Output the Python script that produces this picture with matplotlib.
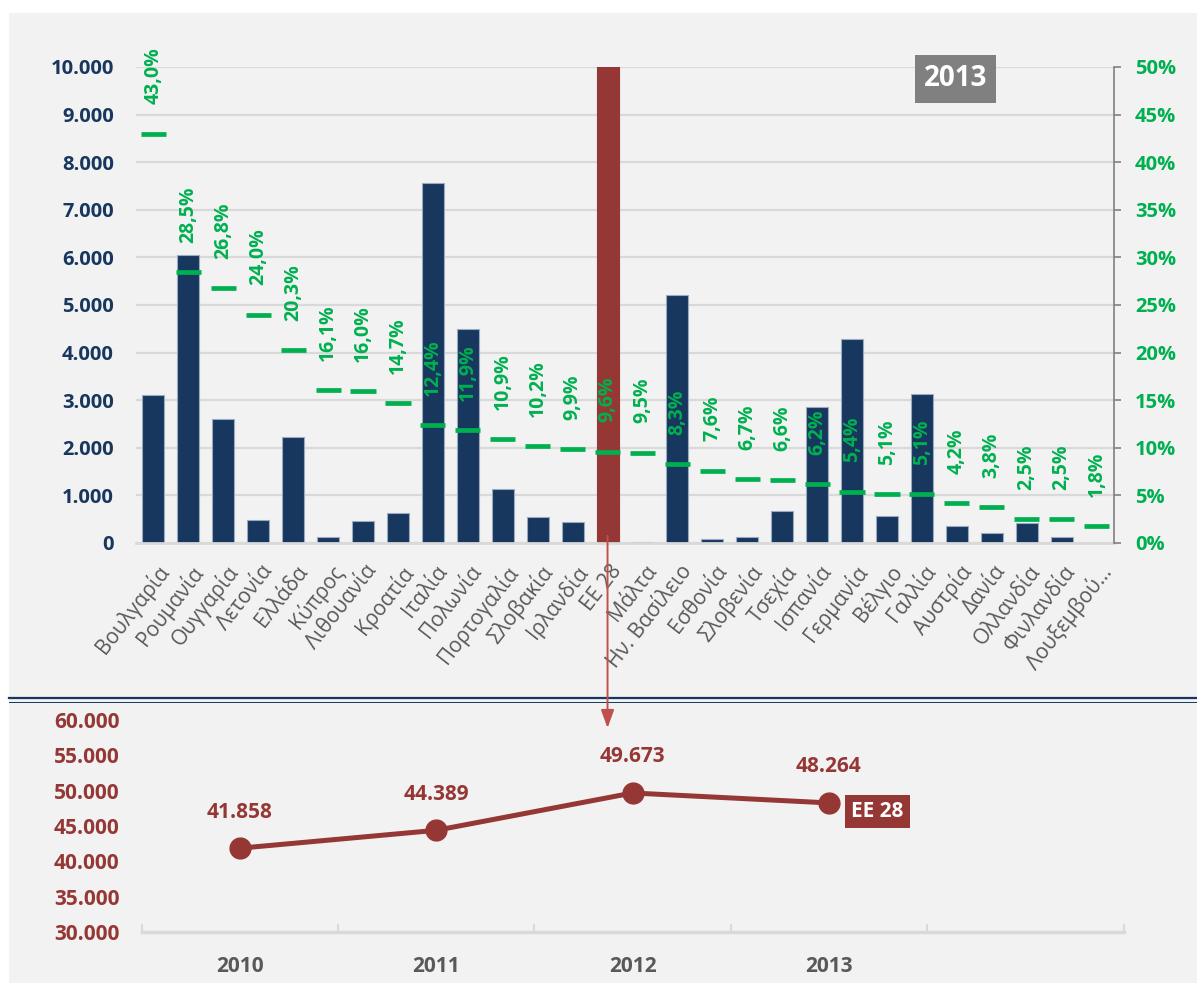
import numpy as np
import matplotlib
matplotlib.use('Agg')
import matplotlib.pyplot as plt
import matplotlib.transforms as mtransforms
from matplotlib.ticker import FuncFormatter
from matplotlib.patches import Rectangle, ConnectionPatch
from matplotlib.lines import Line2D

plt.rcParams['font.family'] = ['Open Sans', 'DejaVu Sans']

# --- data (2013 values per country, % share, EU-28 totals by year)
countries = ['Βουλγαρία', 'Ρουμανία', 'Ουγγαρία', 'Λετονία', 'Ελλάδα', 'Κύπρος',
             'Λιθουανία', 'Κροατία', 'Ιταλία', 'Πολωνία', 'Πορτογαλία', 'Σλοβακία',
             'Ιρλανδία', 'ΕΕ 28', 'Μάλτα', 'Ην. Βασίλειο', 'Εσθονία', 'Σλοβενία',
             'Τσεχία', 'Ισπανία', 'Γερμανία', 'Βέλγιο', 'Γαλλία', 'Αυστρία', 'Δανία',
             'Ολλανδία', 'Φινλανδία', 'Λουξεμβού...']
values = [3110, 6060, 2600, 480, 2230, 130, 470, 620, 7570, 4490, 1140, 550,
          450, 48264, 30, 5210, 90, 125, 670, 2850, 4280, 570, 3130, 360, 210,
          420, 130, 10]
shares = [43.0, 28.5, 26.8, 24.0, 20.3, 16.1, 16.0, 14.7, 12.4, 11.9, 10.9, 10.2,
          9.9, 9.6, 9.5, 8.3, 7.6, 6.7, 6.6, 6.2, 5.4, 5.1, 5.1, 4.2, 3.8, 2.5,
          2.5, 1.8]
EU_LABEL = 'ΕΕ 28'
YEAR_TAG = '2013'

years = ['2010', '2011', '2012', '2013', '']
eu_totals = [41858, 44389, 49673, 48264, np.nan]

NAVY = '#17375E'; RED = '#953735'; ARROW = '#C0504D'; GREEN = '#00B050'
GREY = '#595959'; GRID = '#D9D9D9'; BG = '#F2F2F2'

def thousands(v, p=None):
    return f'{v:,.0f}'.replace(',', '.')

W, H = 1197, 983
fig = plt.figure(figsize=(W / 100, H / 100), dpi=100, facecolor='white')
fig.add_artist(Rectangle((9 / W, 0), 1, 1 - 13 / H, transform=fig.transFigure,
                         facecolor=BG, edgecolor='none', zorder=-10))

# --- top panel: bars + share dashes
ax = fig.add_axes([136 / W, 1 - 543 / H, 978 / W, 476 / H])
ax.set_facecolor('none')
x = np.arange(len(countries))
eu_i = countries.index(EU_LABEL)
cols = [RED if c == EU_LABEL else NAVY for c in countries]
edges = [RED if c == EU_LABEL else '#9AAAC0' for c in countries]
ax.bar(x, values, width=0.63, color=cols, edgecolor=edges, lw=0.8, zorder=2)
ax.set_xlim(-0.5, len(countries) - 0.5)
ax.set_ylim(0, 10000)
ax.set_yticks(np.arange(0, 10001, 1000))
ax.yaxis.set_major_formatter(FuncFormatter(thousands))
ax.tick_params(axis='y', length=0, pad=16, labelsize=14.5, labelcolor=NAVY)
for t in ax.get_yticklabels():
    t.set_fontweight('bold')
ax.yaxis.grid(True, color=GRID, lw=1.6)
ax.set_axisbelow(True)
for s in ('top', 'left', 'right'):
    ax.spines[s].set_visible(False)
ax.spines['bottom'].set_color(GRID)
ax.spines['bottom'].set_linewidth(2)
ax.set_xticks(x)
ax.set_xticklabels(countries, rotation=52, ha='right', rotation_mode='anchor',
                   fontsize=15, color=GREY)
ax.tick_params(axis='x', length=0, pad=13)
shift = mtransforms.ScaledTranslation(2 / 100, 0, fig.dpi_scale_trans)
for t in ax.get_xticklabels():
    t.set_transform(t.get_transform() + shift)

ax2 = ax.twinx()
ax2.set_ylim(0, 50)
ax2.hlines(shares, x - 0.36, x + 0.36, color=GREEN, lw=3.4, capstyle='butt', zorder=3)
for xi, s in zip(x, shares):
    ax2.annotate(f'{s:.1f}%'.replace('.', ','), (xi, s), xytext=(0, 21),
                 textcoords='offset points', rotation=90, ha='center', va='bottom',
                 color=GREEN, fontsize=14, fontweight='bold')
ax2.set_yticks(np.arange(0, 51, 5))
ax2.yaxis.set_major_formatter(FuncFormatter(lambda v, p: f'{v:.0f}%'))
ax2.tick_params(axis='y', color='#808080', length=5, width=1.2, pad=10,
                labelsize=14.5, labelcolor=GREEN)
for t in ax2.get_yticklabels():
    t.set_fontweight('bold')
for s in ('top', 'left', 'bottom'):
    ax2.spines[s].set_visible(False)
ax2.spines['right'].set_color('#808080')
ax2.spines['right'].set_linewidth(1.2)

# year tag box
ax2.add_patch(Rectangle((0.7965, 0.925), 0.0828, 0.1008, transform=ax.transAxes,
                        facecolor='#808080', edgecolor='none', clip_on=False, zorder=5))
ax2.text(0.838, 0.975, YEAR_TAG, transform=ax.transAxes, ha='center', va='center',
         color='white', fontsize=20, fontweight='bold', zorder=6)

# --- divider
fig.add_artist(Line2D([9 / W, 1], [1 - 698 / H] * 2, color=NAVY, lw=1.6))
fig.add_artist(Line2D([9 / W, 1], [1 - 701.5 / H] * 2, color=NAVY, lw=0.7))

# --- bottom panel: EU-28 trend
bx = fig.add_axes([141.6 / W, 1 - 932 / H, 982 / W, 212 / H])
bx.set_facecolor('none')
yx = np.arange(len(years))
bx.plot(yx, eu_totals, color=RED, lw=3.6, marker='o', ms=15, zorder=3)
bx.set_xlim(-0.5, len(years) - 0.5)
bx.set_ylim(30000, 60000)
bx.set_yticks(np.arange(30000, 60001, 5000))
bx.yaxis.set_major_formatter(FuncFormatter(thousands))
bx.tick_params(axis='y', length=0, pad=16, labelsize=15, labelcolor=RED)
for t in bx.get_yticklabels():
    t.set_fontweight('bold')
bx.set_xticks(yx)
bx.set_xticklabels(years, fontweight='bold')
bx.set_xticks(np.arange(-0.5, len(years)), minor=True)
bx.tick_params(axis='x', which='major', length=0, pad=17, labelsize=15, labelcolor=GREY)
bx.tick_params(axis='x', which='minor', direction='in', length=6, width=1.5, color=GRID)
for s in ('top', 'left', 'right'):
    bx.spines[s].set_visible(False)
bx.spines['bottom'].set_color(GRID)
bx.spines['bottom'].set_linewidth(2.5)
for xi, v in zip(yx, eu_totals):
    if np.isnan(v):
        continue
    bx.annotate(thousands(v), (xi, v), xytext=(0, 26), textcoords='offset points',
                ha='center', va='center', color=RED, fontsize=15, fontweight='bold')
last = max(i for i, v in enumerate(eu_totals) if not np.isnan(v))
bx.annotate(EU_LABEL, (last, eu_totals[last]), xytext=(35, -6), textcoords='offset points',
            ha='center', va='center', color='white', fontsize=15, fontweight='bold',
            bbox=dict(boxstyle='square,pad=0.3', fc=RED, ec='none'), zorder=5)

# --- arrow from EU-28 bar down to the trend panel
blend = mtransforms.blended_transform_factory(ax.transData, fig.transFigure)
fig.add_artist(ConnectionPatch(xyA=(eu_i, 150), coordsA=ax.transData,
                               xyB=(eu_i, 1 - 728 / H), coordsB=blend,
                               arrowstyle='-|>,head_length=0.55,head_width=0.2',
                               mutation_scale=20, color=ARROW, lw=1.4,
                               shrinkA=0, shrinkB=0, zorder=20))

fig.savefig('out.png', dpi=100, facecolor=fig.get_facecolor())
